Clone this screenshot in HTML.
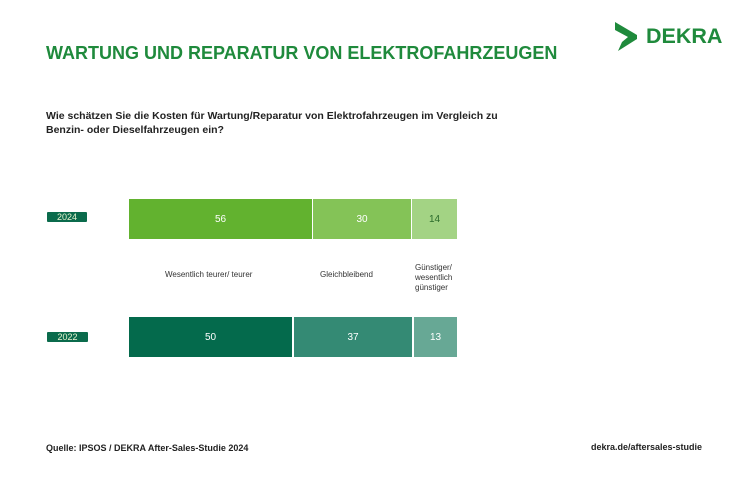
<!DOCTYPE html>
<html><head><meta charset="utf-8"><style>
body{margin:0;width:750px;height:497px;background:#fff;position:relative;font-family:"Liberation Sans","DejaVu Sans",sans-serif;overflow:hidden}
.a{position:absolute;white-space:nowrap}
.seg{position:absolute;display:flex;align-items:center;justify-content:center;font-size:10px;color:#fff}
.yr{position:absolute;background:#0b6b4c;color:#e8f5d0;font-size:9px;text-align:center;border-radius:1px;line-height:10px}
.lbl{position:absolute;font-size:8px;color:#333;line-height:10px}
</style></head><body>
<div class="a" style="left:46px;top:43px;font-size:18px;font-weight:bold;color:#1f8a3c">WARTUNG UND REPARATUR VON ELEKTROFAHRZEUGEN</div>
<svg class="a" style="left:614px;top:22px" width="24" height="30" viewBox="0 0 24 30"><path d="M1 0 L23 13 L23 17 L4 29 L8 20 L14 15 L1 8 Z" fill="#1f8a3c"/></svg>
<div class="a" style="left:646px;top:24px;font-size:21.5px;font-weight:bold;color:#1f8a3c">DEKRA</div>
<div class="a" style="left:46px;top:109px;font-size:10.5px;font-weight:bold;color:#222;line-height:14px">Wie schätzen Sie die Kosten für Wartung/Reparatur von Elektrofahrzeugen im Vergleich zu<br>Benzin- oder Dieselfahrzeugen ein?</div>
<div class="yr" style="left:47px;top:212px;width:40px;height:10px">2024</div>
<div class="yr" style="left:47px;top:332px;width:41px;height:10px">2022</div>
<div class="seg" style="left:129px;top:199px;width:183px;height:40px;background:#62b22f">56</div>
<div class="seg" style="left:313px;top:199px;width:98px;height:40px;background:#84c357">30</div>
<div class="seg" style="left:412px;top:199px;width:45px;height:40px;background:#a3d384;color:#2b6b2b">14</div>
<div class="seg" style="left:129px;top:317px;width:163px;height:40px;background:#046a4c">50</div>
<div class="seg" style="left:294px;top:317px;width:118px;height:40px;background:#348a74">37</div>
<div class="seg" style="left:414px;top:317px;width:43px;height:40px;background:#67a895">13</div>
<div class="lbl" style="left:165px;top:270px">Wesentlich teurer/ teurer</div>
<div class="lbl" style="left:320px;top:270px">Gleichbleibend</div>
<div class="lbl" style="left:415px;top:263px">Günstiger/<br>wesentlich<br>günstiger</div>
<div class="a" style="left:46px;top:443px;font-size:9px;font-weight:bold;color:#222">Quelle: IPSOS / DEKRA After-Sales-Studie 2024</div>
<div class="a" style="left:591px;top:442px;font-size:9px;font-weight:bold;color:#222">dekra.de/aftersales-studie</div>
</body></html>
